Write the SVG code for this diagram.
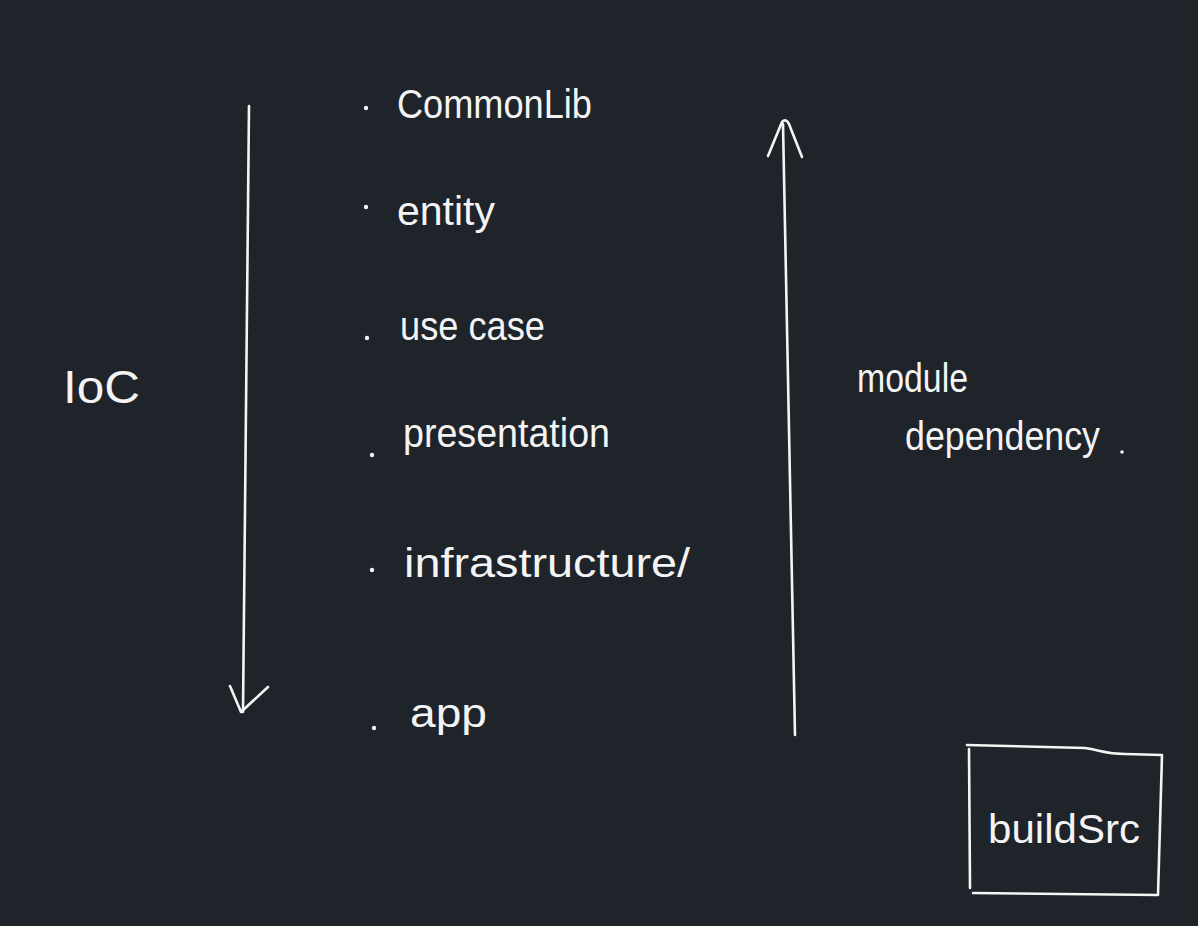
<svg xmlns="http://www.w3.org/2000/svg" width="1198" height="926" viewBox="0 0 1198 926">
<style>
.bg{fill:#1f232a}
.t{fill:#f4f4f4;font-family:"Liberation Sans",Arial,sans-serif;font-size:40px}
.big{font-size:46px}
.s{fill:none;stroke:#f4f4f4;stroke-width:2.6;stroke-linecap:round;stroke-linejoin:round}
.d{fill:#f4f4f4}
</style>
<rect class="bg" width="1198" height="926"/>
<g id="connectors">
<path class="s" d="M249 106 Q246 400 243 712"/>
<path class="s" d="M230 686 L241 712 L268 687"/>
<path class="s" d="M795 735 Q789 420 783 124"/>
<path class="s" d="M768 156 L782 122 Q786 118 789 124 L802 157"/>
</g>
<g id="ioc"><text class="t big" x="63" y="403" textLength="77" lengthAdjust="spacingAndGlyphs">IoC</text></g>
<g id="commonlib"><circle class="d" cx="366" cy="108" r="2.2"/><text class="t" x="397" y="118" textLength="195" lengthAdjust="spacingAndGlyphs">CommonLib</text></g>
<g id="entity"><circle class="d" cx="366" cy="207" r="2.2"/><text class="t" x="397" y="225" textLength="98" lengthAdjust="spacingAndGlyphs">entity</text></g>
<g id="usecase"><circle class="d" cx="367" cy="338" r="2.2"/><text class="t" x="400" y="340" textLength="145" lengthAdjust="spacingAndGlyphs">use case</text></g>
<g id="presentation"><circle class="d" cx="372" cy="455" r="2.2"/><text class="t" x="403" y="447" textLength="207" lengthAdjust="spacingAndGlyphs">presentation</text></g>
<g id="infrastructure"><circle class="d" cx="372" cy="570" r="2.2"/><text class="t" x="404" y="577" textLength="286" lengthAdjust="spacingAndGlyphs">infrastructure/</text></g>
<g id="app"><circle class="d" cx="374" cy="728" r="2.2"/><text class="t" x="410" y="727" textLength="77" lengthAdjust="spacingAndGlyphs">app</text></g>
<g id="dependency-label">
<text class="t" x="857" y="392" textLength="111" lengthAdjust="spacingAndGlyphs">module</text>
<text class="t" x="905" y="450" textLength="195" lengthAdjust="spacingAndGlyphs">dependency</text>
<circle class="d" cx="1122" cy="452" r="1.8"/>
</g>
<g id="buildsrc">
<path class="s" d="M967 745 L1085 748 C1100 750 1105 754 1125 754 L1162 755 M1162 755 L1158 895 M1157 895 L973 893 M969 749 L970 888"/>
<text class="t" x="988" y="843" textLength="152" lengthAdjust="spacingAndGlyphs">buildSrc</text>
</g>
</svg>
